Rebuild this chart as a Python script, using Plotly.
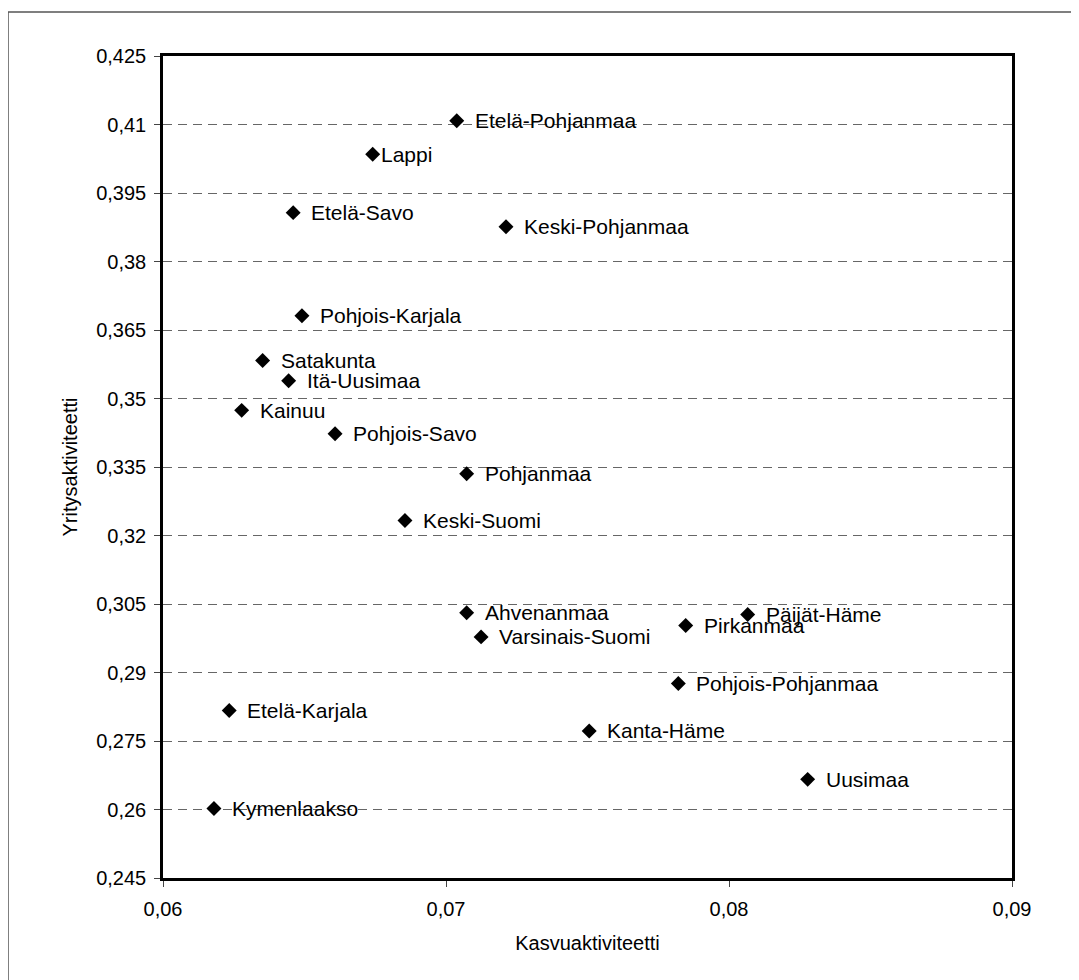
import plotly.graph_objects as go

regions = [
    "Etelä-Pohjanmaa", "Lappi", "Etelä-Savo", "Keski-Pohjanmaa",
    "Pohjois-Karjala", "Satakunta", "Itä-Uusimaa", "Kainuu",
    "Pohjois-Savo", "Pohjanmaa", "Keski-Suomi", "Ahvenanmaa",
    "Varsinais-Suomi", "Pirkanmaa", "Päijät-Häme", "Pohjois-Pohjanmaa",
    "Etelä-Karjala", "Kanta-Häme", "Uusimaa", "Kymenlaakso",
]
kasvuaktiviteetti = [
    0.07038, 0.06741, 0.06460, 0.07212,
    0.06491, 0.06352, 0.06444, 0.06278,
    0.06608, 0.07073, 0.06855, 0.07073,
    0.07124, 0.07847, 0.08066, 0.07821,
    0.06234, 0.07506, 0.08278, 0.06180,
]
yritysaktiviteetti = [
    0.4108, 0.4035, 0.3907, 0.3876,
    0.3681, 0.3583, 0.3539, 0.3474,
    0.3423, 0.3335, 0.3233, 0.3031,
    0.2978, 0.3003, 0.3027, 0.2876,
    0.2817, 0.2772, 0.2666, 0.2602,
]

x_title = "Kasvuaktiviteetti"
y_title = "Yritysaktiviteetti"

FONT = "Liberation Sans, Arial, sans-serif"
FS = 20
LABEL_FS = 21
DEFAULT_SHIFT = 16
SPECIAL_SHIFT = {"Lappi": 6}

# plot area size in px
PW, PH = 849, 822

fig = go.Figure()
fig.add_trace(go.Scatter(
    x=kasvuaktiviteetti, y=yritysaktiviteetti, mode="markers",
    marker=dict(symbol="diamond", size=11.5, color="black", line=dict(width=0)),
    hoverinfo="text", text=regions, showlegend=False,
))

for name, xv, yv in zip(regions, kasvuaktiviteetti, yritysaktiviteetti):
    fig.add_annotation(
        x=xv, y=yv, xref="x", yref="y", text=name, showarrow=False,
        xanchor="left", yanchor="middle",
        xshift=SPECIAL_SHIFT.get(name, DEFAULT_SHIFT),
        font=dict(family=FONT, size=LABEL_FS, color="black"),
    )

# outer chart frame (left and top edges visible)
fx = -155 / PW
fy = 1 + 44 / PH
fig.add_shape(type="line", xref="paper", yref="paper",
              x0=fx, x1=1.2, y0=fy, y1=fy,
              line=dict(color="#555555", width=1.5))
fig.add_shape(type="line", xref="paper", yref="paper",
              x0=fx, x1=fx, y0=-0.2, y1=fy,
              line=dict(color="#555555", width=1.5))

fig.update_layout(
    width=1071, height=972,
    margin=dict(l=155, r=1071 - 155 - PW, t=48, b=972 - 48 - PH),
    paper_bgcolor="white", plot_bgcolor="white",
    separators=", ",
    font=dict(family=FONT, size=FS, color="black"),
)
fig.update_xaxes(
    range=[0.06, 0.09], tick0=0.06, dtick=0.01,
    showgrid=False, zeroline=False,
    showline=True, linecolor="black", linewidth=2.5, mirror=True,
    ticks="outside", ticklen=6, tickwidth=1, tickcolor="#444444",
    ticklabelstandoff=5,
    tickfont=dict(family=FONT, size=FS, color="black"),
    title=dict(text=x_title, font=dict(family=FONT, size=FS, color="black"), standoff=18),
)
fig.update_yaxes(
    range=[0.245, 0.425], tick0=0.245, dtick=0.015,
    showgrid=True, gridcolor="#666666", gridwidth=1, griddash="9px,6px",
    zeroline=False,
    showline=True, linecolor="black", linewidth=2.5, mirror=True,
    ticks="outside", ticklen=6, tickwidth=1, tickcolor="#444444",
    ticklabelstandoff=4,
    tickfont=dict(family=FONT, size=FS, color="black"),
    title=dict(text=y_title, font=dict(family=FONT, size=FS, color="black"), standoff=14),
)

fig.write_html("out.html")
